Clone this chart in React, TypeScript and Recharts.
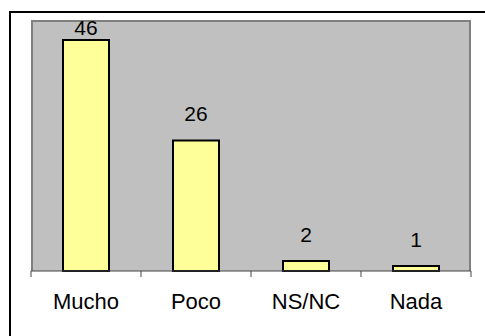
import { BarChart, Bar, XAxis, YAxis, CartesianGrid, LabelList } from "recharts";

const categories = ["Mucho", "Poco", "NS/NC", "Nada"];
const values = [46, 26, 2, 1];

const data = categories.map((name, i) => ({ name, value: values[i] }));

const FONT = "Arial, 'Liberation Sans', sans-serif";
const BAND = 110;

const CategoryTick = (props: any) => {
  const { x, y, payload, index } = props;
  const half = BAND / 2;
  return (
    <g>
      <line x1={x - half} x2={x - half} y1={y} y2={y + 6} stroke="#444" />
      {index === categories.length - 1 && (
        <line x1={x + half} x2={x + half} y1={y} y2={y + 6} stroke="#444" />
      )}
      <text x={x} y={y + 38} textAnchor="middle" fontSize={22} fontFamily={FONT} fill="#000">
        {payload.value}
      </text>
    </g>
  );
};

// value label above bar, pushed down to stay inside the plot area like excel does
const ValueLabel = (props: any) => {
  const { x, y, width, value } = props;
  const base = Math.max(y - 19, 35);
  return (
    <text x={x + width / 2} y={base} textAnchor="middle" fontSize={21} fontFamily={FONT} fill="#000">
      {value}
    </text>
  );
};

const App = () => {
  return (
    <div style={{ position: "fixed", left: 0, top: 0, width: 485, height: 336, overflow: "hidden", background: "#fff" }}>
      <div
        style={{
          position: "absolute",
          left: 9,
          top: 11,
          width: 500,
          height: 400,
          border: "2px solid #000",
        }}
      />
      <div style={{ position: "absolute", left: 0, top: 0 }}>
        <BarChart
          width={485}
          height={336}
          data={data}
          margin={{ top: 20, right: 14, left: 31, bottom: 0 }}
        >
          <CartesianGrid
            fill="#C0C0C0"
            fillOpacity={1}
            stroke="#808080"
            strokeWidth={2}
            verticalPoints={[32, 470]}
            horizontalPoints={[21]}
          />
          <YAxis hide domain={[0, 50]} />
          <XAxis
            dataKey="name"
            height={65}
            tickSize={0}
            tickMargin={0}
            tickLine={false}
            axisLine={{ stroke: "#444" }}
            tick={<CategoryTick />}
            interval={0}
          />
          <Bar
            dataKey="value"
            fill="#FFFF99"
            stroke="#000"
            strokeWidth={2}
            barSize={46}
            isAnimationActive={false}
          >
            <LabelList dataKey="value" content={<ValueLabel />} />
          </Bar>
        </BarChart>
      </div>
    </div>
  );
};

export default App;
